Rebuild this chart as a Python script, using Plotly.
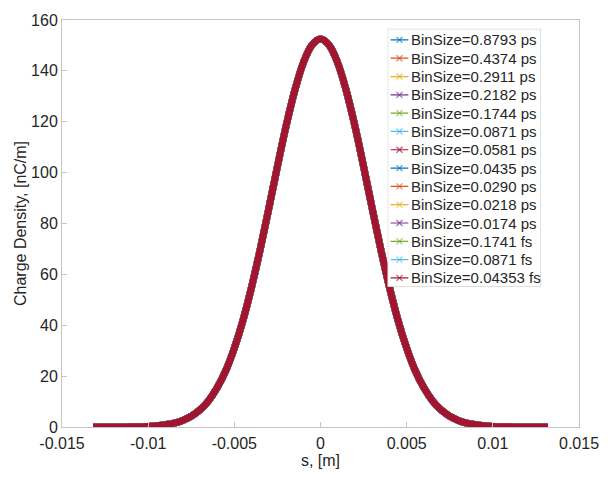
import plotly.graph_objects as go

# position along bunch, s [m]
s_m = [-0.0132, -0.012, -0.011, -0.010, -0.0095, -0.009, -0.0085, -0.008, -0.0075, -0.007,
       -0.0065, -0.006, -0.0055, -0.005, -0.0045, -0.004, -0.0035, -0.003, -0.0025, -0.002,
       -0.0015, -0.001, -0.0005, 0.0, 0.0005, 0.001, 0.0015, 0.002, 0.0025, 0.003,
       0.0035, 0.004, 0.0045, 0.005, 0.0055, 0.006, 0.0065, 0.007, 0.0075, 0.008,
       0.0085, 0.009, 0.0095, 0.010, 0.011, 0.012, 0.0132]
# charge density [nC/m] (all series overlap)
density = [0.0, 0.0, 0.05, 0.2, 0.5, 0.9, 1.5, 2.6, 4.2, 6.7,
           10.3, 15.4, 22.1, 31.0, 41.9, 55.0, 69.8, 85.9, 102.4, 118.2,
           132.1, 143.1, 150.1, 152.5, 150.1, 143.1, 132.1, 118.2, 102.4, 85.9,
           69.8, 55.0, 41.9, 31.0, 22.1, 15.4, 10.3, 6.7, 4.2, 2.6,
           1.5, 0.9, 0.5, 0.2, 0.05, 0.0, 0.0]

labels = ["BinSize=0.8793 ps", "BinSize=0.4374 ps", "BinSize=0.2911 ps", "BinSize=0.2182 ps",
          "BinSize=0.1744 ps", "BinSize=0.0871 ps", "BinSize=0.0581 ps", "BinSize=0.0435 ps",
          "BinSize=0.0290 ps", "BinSize=0.0218 ps", "BinSize=0.0174 ps", "BinSize=0.1741 fs",
          "BinSize=0.0871 fs", "BinSize=0.04353 fs"]
palette = ["#0072BD", "#D95319", "#EDB120", "#7E2F8E", "#77AC30", "#4DBEEE", "#A2142F"]

x_ticks = [-0.015, -0.01, -0.005, 0, 0.005, 0.01, 0.015]
x_ticktext = ["-0.015", "-0.01", "-0.005", "0", "0.005", "0.01", "0.015"]
y_ticks = [0, 20, 40, 60, 80, 100, 120, 140, 160]

W, H = 611, 478
L, R, T, B = 62, 22, 13, 50
pw, ph = W - L - R, H - T - B

fig = go.Figure()
for i, lab in enumerate(labels):
    c = palette[i % len(palette)]
    fig.add_trace(go.Scatter(x=s_m, y=density, mode="lines", name=lab, showlegend=False,
                             line=dict(color=c, width=7, shape="spline", smoothing=1.0),
                             hoverinfo="skip", xaxis="x", yaxis="y"))

# MATLAB-style legend box drawn on an overlay subplot (pixel-like units)
box_l, box_r, box_t, box_b = 394, 550, 22, 285
bw, bh = box_r - box_l, box_b - box_t
row0, row_step = 11.3, 18.67
fill_x = [0, bw, bw, 0, 0]
fill_y = [0, 0, bh, bh, 0]
fig.add_trace(go.Scatter(x=fill_x, y=fill_y, mode="lines", fill="toself", fillcolor="white",
                         line=dict(color="#c4c4c4", width=1), showlegend=False,
                         hoverinfo="skip", xaxis="x2", yaxis="y2"))
for i, lab in enumerate(labels):
    c = palette[i % len(palette)]
    yy = row0 + row_step * i
    fig.add_trace(go.Scatter(x=[3, 12, 21], y=[yy, yy, yy], mode="lines+markers",
                             line=dict(color=c, width=1.2),
                             marker=dict(symbol="x-thin", size=[0, 6, 0], color=c,
                                         line=dict(color=c, width=1.2)),
                             showlegend=False, hoverinfo="skip", xaxis="x2", yaxis="y2"))
    fig.add_annotation(x=22, y=yy, xref="x2", yref="y2", text=lab, showarrow=False,
                       xanchor="left", yanchor="middle",
                       font=dict(family="Liberation Sans, Arial, sans-serif", size=15, color="#262626"))

font_fam = "Liberation Sans, Arial, sans-serif"
axis_common = dict(showgrid=False, zeroline=False, showline=True, linecolor="#c4c4c4",
                   linewidth=1, mirror=True, ticks="inside", ticklen=5, tickcolor="#c4c4c4",
                   tickfont=dict(family=font_fam, size=16, color="#262626"))

fig.update_layout(
    width=W, height=H,
    margin=dict(l=L, r=R, t=T, b=B),
    paper_bgcolor="white", plot_bgcolor="white",
    font=dict(family=font_fam, color="#262626"),
    showlegend=False,
    xaxis=dict(range=[-0.015, 0.015], tickvals=x_ticks, ticktext=x_ticktext,
               ticklabelstandoff=2,
               title=dict(text="s, [m]", font=dict(size=16, color="#262626"), standoff=3),
               **axis_common),
    yaxis=dict(range=[0, 160], tickvals=y_ticks,
               title=dict(text="Charge Density, [nC/m]", font=dict(size=16, color="#262626"), standoff=0),
               **axis_common),
    xaxis2=dict(domain=[(box_l - L) / pw, (box_r - L) / pw], range=[0, bw], anchor="y2",
                visible=False, fixedrange=True),
    yaxis2=dict(domain=[(H - B - box_b) / ph, (H - B - box_t) / ph], range=[bh, 0], anchor="x2",
                visible=False, fixedrange=True),
)

fig.write_html("out.html")
